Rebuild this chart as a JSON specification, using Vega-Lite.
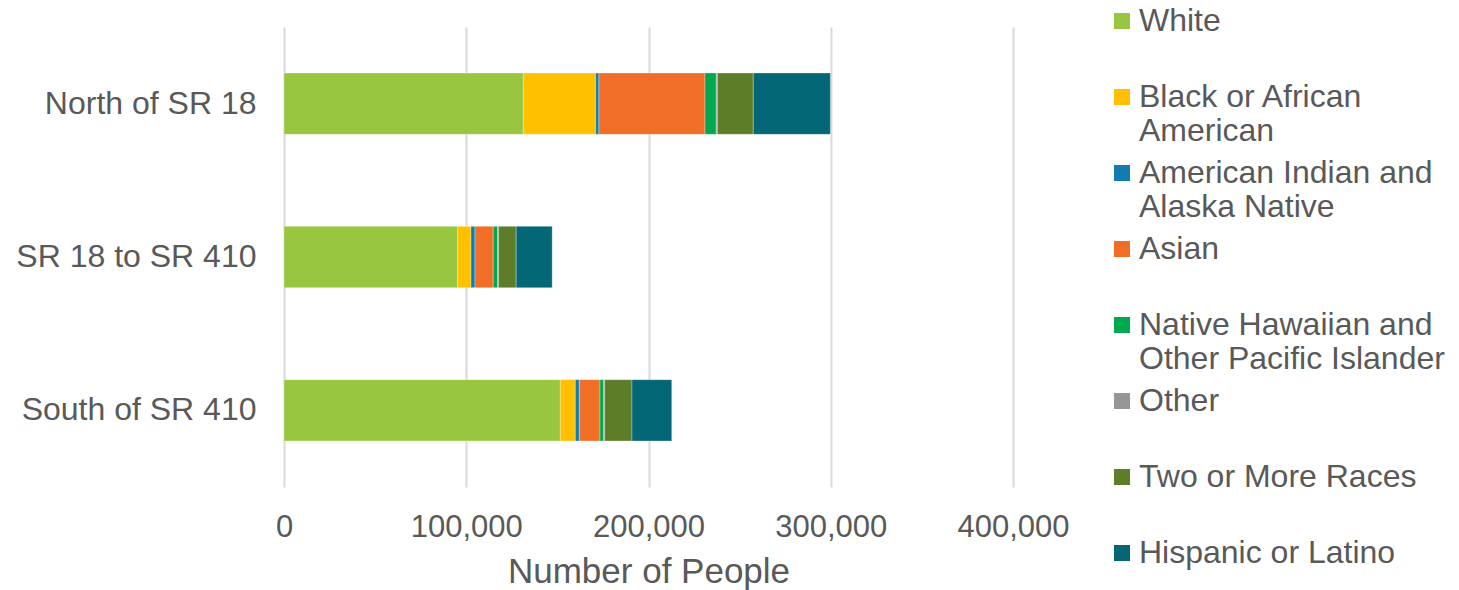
{
  "$schema": "https://vega.github.io/schema/vega-lite/v6.json",
  "width": 729,
  "height": 460,
  "autosize": {"type": "none"},
  "padding": {"left": 284, "top": 27, "right": 446, "bottom": 103},
  "background": "white",
  "config": {
    "view": {"stroke": null},
    "font": "Liberation Sans",
    "axis": {"labelFont": "Liberation Sans", "titleFont": "Liberation Sans", "labelColor": "#595959", "titleColor": "#595959"},
    "legend": {"labelFont": "Liberation Sans"}
  },
  "data": {
    "values": [
      {"region": "North of SR 18", "race": "White", "people": 131300},
      {"region": "North of SR 18", "race": "Black or African American", "people": 39700},
      {"region": "North of SR 18", "race": "American Indian and Alaska Native", "people": 1800},
      {"region": "North of SR 18", "race": "Asian", "people": 58200},
      {"region": "North of SR 18", "race": "Native Hawaiian and Other Pacific Islander", "people": 6200},
      {"region": "North of SR 18", "race": "Other", "people": 600},
      {"region": "North of SR 18", "race": "Two or More Races", "people": 19700},
      {"region": "North of SR 18", "race": "Hispanic or Latino", "people": 42300},
      {"region": "SR 18 to SR 410", "race": "White", "people": 95300},
      {"region": "SR 18 to SR 410", "race": "Black or African American", "people": 7300},
      {"region": "SR 18 to SR 410", "race": "American Indian and Alaska Native", "people": 2200},
      {"region": "SR 18 to SR 410", "race": "Asian", "people": 10000},
      {"region": "SR 18 to SR 410", "race": "Native Hawaiian and Other Pacific Islander", "people": 2400},
      {"region": "SR 18 to SR 410", "race": "Other", "people": 550},
      {"region": "SR 18 to SR 410", "race": "Two or More Races", "people": 9650},
      {"region": "SR 18 to SR 410", "race": "Hispanic or Latino", "people": 19750},
      {"region": "South of SR 410", "race": "White", "people": 151600},
      {"region": "South of SR 410", "race": "Black or African American", "people": 8250},
      {"region": "South of SR 410", "race": "American Indian and Alaska Native", "people": 2200},
      {"region": "South of SR 410", "race": "Asian", "people": 11350},
      {"region": "South of SR 410", "race": "Native Hawaiian and Other Pacific Islander", "people": 2000},
      {"region": "South of SR 410", "race": "Other", "people": 550},
      {"region": "South of SR 410", "race": "Two or More Races", "people": 15000},
      {"region": "South of SR 410", "race": "Hispanic or Latino", "people": 21800}
    ]
  },
  "transform": [
    {"calculate": "indexof(['White','Black or African American','American Indian and Alaska Native','Asian','Native Hawaiian and Other Pacific Islander','Other','Two or More Races','Hispanic or Latino'], datum.race)", "as": "k"}
  ],
  "mark": {"type": "bar", "stroke": "white", "strokeWidth": 0.5, "strokeOpacity": 0.6},
  "encoding": {
    "y": {
      "field": "region", "type": "nominal", "sort": null,
      "scale": {"paddingInner": 0.6, "paddingOuter": 0.3},
      "axis": {"title": null, "ticks": false, "domain": false, "labelFontSize": 32, "labelPadding": 28, "labelLimit": 300}
    },
    "x": {
      "field": "people", "type": "quantitative", "stack": "zero",
      "scale": {"domain": [0, 400000], "nice": false},
      "axis": {
        "title": "Number of People", "titleFontSize": 35, "titleFontWeight": "normal", "titlePadding": 12,
        "values": [0, 100000, 200000, 300000, 400000], "format": ",.0f",
        "labelFontSize": 31, "labelPadding": 25, "ticks": false, "domain": false,
        "gridColor": "#D9D9D9", "gridWidth": 2, "labelFlush": false
      }
    },
    "order": {"field": "k", "type": "quantitative"},
    "color": {
      "field": "race", "type": "nominal",
      "scale": {
        "domain": ["White", "Black or African American", "American Indian and Alaska Native", "Asian", "Native Hawaiian and Other Pacific Islander", "Other", "Two or More Races", "Hispanic or Latino"],
        "range": ["#99C640", "#FFC000", "#0F7DAF", "#F16E26", "#00A94F", "#969696", "#5E7D29", "#036775"]
      },
      "legend": {
        "title": null,
        "orient": "none",
        "legendX": 822,
        "legendY": -22,
        "padding": 0,
        "symbolType": "square",
        "symbolSize": 256,
        "symbolStrokeWidth": 0,
        "labelFontSize": 32,
        "labelColor": "#595959",
        "labelBaseline": "middle",
        "labelOffset": 1,
        "labelLimit": 400,
        "gridAlign": "all",
        "rowPadding": 10,
        "labelExpr": "datum.label == 'Black or African American' ? ['Black or African', 'American'] : datum.label == 'American Indian and Alaska Native' ? ['American Indian and', 'Alaska Native'] : datum.label == 'Native Hawaiian and Other Pacific Islander' ? ['Native Hawaiian and', 'Other Pacific Islander'] : [datum.label, '']",
        "encode": {
          "labels": {"update": {"dy": {"value": 18}, "lineHeight": {"value": 36}}}
        }
      }
    }
  }
}
